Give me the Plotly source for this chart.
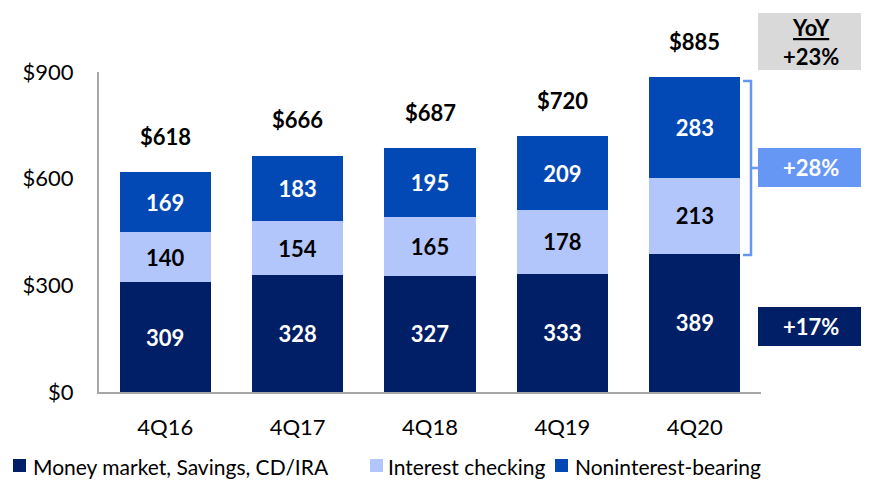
import plotly.graph_objects as go

quarters = ["4Q16", "4Q17", "4Q18", "4Q19", "4Q20"]
money_market = [309, 328, 327, 333, 389]
interest_checking = [140, 154, 165, 178, 213]
noninterest = [169, 183, 195, 209, 283]
totals = [618, 666, 687, 720, 885]
y_ticks = [0, 300, 600, 900]
y_tick_labels = ["$0", "$300", "$600", "$900"]
yoy_total = "+23%"
yoy_upper = "+28%"
yoy_lower = "+17%"

NAVY = "#011F66"
LIGHT = "#B3C6FB"
MID = "#0249B5"
BRACKET = "#6797F5"
FONT = "Lato"

# page puts the figure 8px in from the top-left corner of the window,
# so everything below is laid out in window pixels and shifted back
W, H = 869, 481
OFF = 8
PL, PT, PR, PB = 99, 72, 761, 392   # plot area in window pixels


def px_x(px):
    return (px - PL) / (PR - PL)


def px_y(py):
    return (PB - py) / (PB - PT)


fig = go.Figure()
series = [
    ("Money market, Savings, CD/IRA", money_market, NAVY, "white"),
    ("Interest checking", interest_checking, LIGHT, "black"),
    ("Noninterest-bearing", noninterest, MID, "white"),
]
for name, vals, color, tcol in series:
    fig.add_trace(go.Bar(
        x=quarters, y=vals, name=name, showlegend=False,
        marker=dict(color=color, line=dict(width=0)),
        text=vals, textposition="inside", insidetextanchor="middle",
        textfont=dict(family=FONT, size=22, color=tcol, weight="bold"),
        width=0.69,
    ))

for q, t in zip(quarters, totals):
    fig.add_annotation(x=q, y=t, text=f"<b>${t}</b>", showarrow=False,
                       xanchor="center", yanchor="bottom", yshift=20,
                       font=dict(family=FONT, size=22, color="black"))

# legend drawn by hand so it sits on one row like the original
legend_pos = [(13, 33), (370, 388), (555, 575)]
for (name, _, color, _), (sq, tx) in zip(series, legend_pos):
    fig.add_shape(type="rect", xref="paper", yref="paper",
                  x0=px_x(sq), x1=px_x(sq + 13), y0=px_y(472), y1=px_y(459),
                  fillcolor=color, line=dict(width=0))
    fig.add_annotation(xref="paper", yref="paper", x=px_x(tx - 2),
                       y=px_y(466), text=name, showarrow=False,
                       xanchor="left", yanchor="middle",
                       font=dict(family=FONT, size=21, color="black"))

# right-hand YoY boxes
boxes = [
    (13, 70, "#D9D9D9", f"<b><u>YoY</u></b><br><b>{yoy_total}</b>", "black"),
    (148, 187, BRACKET, f"<b>{yoy_upper}</b>", "white"),
    (307, 346, NAVY, f"<b>{yoy_lower}</b>", "white"),
]
for y0, y1, col, txt, tcol in boxes:
    fig.add_shape(type="rect", xref="paper", yref="paper",
                  x0=px_x(758), x1=px_x(864), y0=px_y(y1), y1=px_y(y0),
                  fillcolor=col, line=dict(width=0), layer="below")
    fig.add_annotation(xref="paper", yref="paper", x=px_x(811),
                       y=px_y((y0 + y1) / 2), text=txt, showarrow=False,
                       xanchor="center", yanchor="middle",
                       font=dict(family=FONT, size=22, color=tcol),
                       align="center")

# bracket around the top two segments of 4Q20
bx, bl = px_x(751), px_x(743)
for path in [
    f"M {bl} {px_y(81)} L {bx} {px_y(81)} L {bx} {px_y(255)} L {bl} {px_y(255)}",
    f"M {bx} {px_y(168)} L {px_x(758)} {px_y(168)}",
]:
    fig.add_shape(type="path", xref="paper", yref="paper", path=path,
                  line=dict(color=BRACKET, width=2.5))

fig.update_layout(
    barmode="stack",
    width=W, height=H,
    margin=dict(l=PL - OFF, r=W - (PR - OFF), t=PT - OFF, b=H - (PB - OFF),
                autoexpand=False),
    plot_bgcolor="white", paper_bgcolor="white",
    font=dict(family=FONT, color="black"),
    showlegend=False,
    xaxis=dict(showline=True, linecolor="#A6A6A6", linewidth=2,
               tickfont=dict(family=FONT, size=22), ticks="",
               ticklabelstandoff=15, range=[-0.5, 4.5]),
    yaxis=dict(range=[0, 900], tickvals=y_ticks, ticktext=y_tick_labels,
               showgrid=False, zeroline=False, showline=True,
               linecolor="#A6A6A6", linewidth=2, ticks="",
               tickfont=dict(family=FONT, size=22), ticklabelstandoff=19),
)

fig.write_html("out.html")
